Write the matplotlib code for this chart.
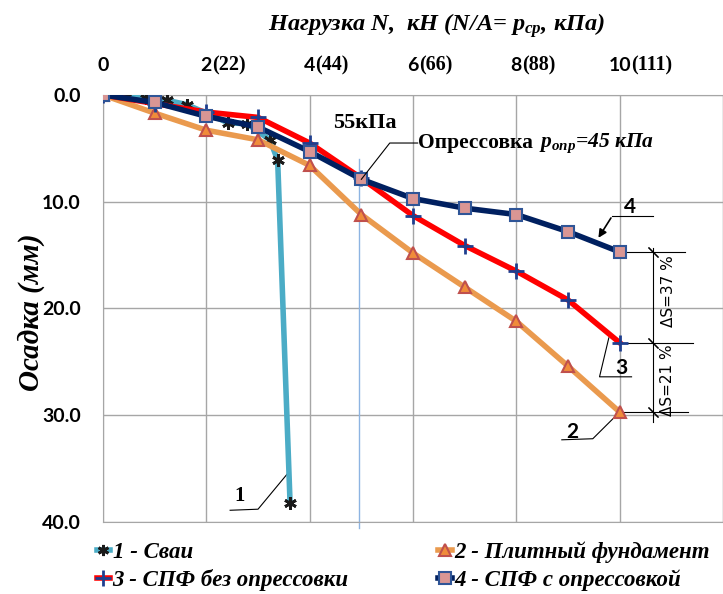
import matplotlib
matplotlib.use("Agg")
import matplotlib.pyplot as plt
import matplotlib.transforms as mtrans
from matplotlib.lines import Line2D

plt.rcParams['mathtext.fontset'] = 'custom'
plt.rcParams['mathtext.rm'] = 'Liberation Serif:bold'
plt.rcParams['mathtext.it'] = 'Liberation Serif:italic:bold'
plt.rcParams['mathtext.bf'] = 'Liberation Serif:bold'

# ---- data ----
n1 = [0, 0.43, 0.83, 1.24, 1.62, 2.42, 2.79, 3.23, 3.38, 3.62]
s1 = [0, 0.2, 0.3, 0.5, 0.9, 2.6, 2.7, 4.2, 6.1, 38.2]
n_load = [0, 1, 2, 3, 4, 5, 6, 7, 8, 9, 10]
s2 = [0, 1.7, 3.3, 4.2, 6.6, 11.2, 14.8, 18.0, 21.2, 25.4, 29.7]
s3 = [0, 0.8, 1.6, 2.1, 4.5, 7.8, 11.3, 14.1, 16.5, 19.2, 23.2]
s4 = [0, 0.7, 2.0, 3.0, 5.3, 7.9, 9.7, 10.6, 11.2, 12.8, 14.7]
top_ticks = [0, 2, 4, 6, 8, 10]
top_kpa = ["", "(22)", "(44)", "(66)", "(88)", "(111)"]
y_ticks = [0, 10, 20, 30, 40]
legend_labels = ["1 - Сваи", "2 - Плитный фундамент", "3 - СПФ без опрессовки", "4 - СПФ с опрессовкой"]
p_opr_load = 4.95

serif = 'Liberation Serif'
sans = 'Lato'

fig = plt.figure(figsize=(7.23, 5.94), dpi=100)
ax = fig.add_axes([0.1425, 0.1212, 0.8575, 0.7189])
ax.set_xlim(0, 12)
ax.set_ylim(40, 0)
ax.set_xticks([0, 2, 4, 6, 8, 10, 12])
ax.set_yticks(y_ticks)
ax.grid(True, color='#a6a6a6', lw=1.0)
for sp in ax.spines.values():
    sp.set_color('#a6a6a6')
ax.tick_params(length=0)
ax.set_xticklabels([])
ax.set_yticklabels([f"{v:.1f}" for v in y_ticks], fontsize=14, fontweight='bold', family=sans)
ax.tick_params(axis='y', pad=16)
ax.set_axisbelow(True)

# top tick labels
tr = mtrans.blended_transform_factory(ax.transData, ax.transAxes)
for t, k in zip(top_ticks, top_kpa):
    t1 = ax.text(t, 1.07, str(t), transform=tr, ha='center', va='center',
                 fontsize=14, fontweight='bold', family=sans)
    if k:
        ax.annotate(k, xy=(1, 0.5), xycoords=t1, ha='left', va='center',
                    fontsize=14.5, fontweight='bold', family=serif, annotation_clip=False)

# series
ax.plot(n1, s1, color='#4bacc6', lw=4, marker=(6, 2, 0), ms=9, mec='#1a1a1a', mew=2, zorder=3)
ax.plot(n_load, s2, color='#ea9a4e', lw=4, marker='^', ms=9, mfc='#f08c3a', mec='#c0504d', mew=1.5, zorder=4)
ax.plot(n_load, s3, color='#ff0000', lw=4, marker='+', ms=12, mec='#1f3f8f', mew=2, zorder=5)
ax.plot(n_load, s4, color='#002060', lw=4, marker='s', ms=8, mfc='#d99694', mec='#2f5597', mew=1.5, zorder=6)

# 55 kPa line
ax.plot([p_opr_load, p_opr_load], [6.0, 40.6], color='#8db4e2', lw=1, clip_on=False, zorder=2)
ax.text(4.45, 2.6, "55кПа", ha='left', va='center', fontsize=16, fontweight='bold', family=serif)
ax.plot([n_load[5], 5.55, 6.09], [s4[5], 4.5, 4.5], color='black', lw=0.8, zorder=7)
t_op = ax.text(6.1, 4.5, "Опрессовка ", ha='left', va='center', fontsize=15.5, fontweight='bold', family=serif)
ax.annotate(r"$p_{опр}$=45 кПа", xy=(1, 0.5), xycoords=t_op, ha='left', va='center',
            fontsize=15.5, fontweight='bold', fontstyle='italic', family=serif)

# callouts
ax.text(2.65, 37.6, "1", ha='center', va='center', fontsize=15, fontweight='bold', family=serif)
ax.plot([2.46, 3.0, 3.6], [38.9, 38.8, 35.3], color='black', lw=0.8)
ax.text(9.09, 31.6, "2", ha='center', va='center', fontsize=15, fontweight='bold', family=sans)
ax.plot([8.88, 9.48, n_load[-1]], [32.3, 32.2, s2[-1]], color='black', lw=0.8)
ax.text(10.04, 25.6, "3", ha='center', va='center', fontsize=15, fontweight='bold', family=sans)
ax.plot([10.23, 9.61, 9.79], [26.4, 26.4, 22.75], color='black', lw=0.8)
ax.text(10.19, 10.5, "4", ha='center', va='center', fontsize=15, fontweight='bold', family=sans)
ax.plot([10.64, 9.86], [11.3, 11.3], color='black', lw=0.8)
ax.annotate("", xy=(9.56, 13.6), xytext=(9.86, 11.3),
            arrowprops=dict(arrowstyle='-|>', color='black', lw=1.2, mutation_scale=12))

# dimension lines
ax.plot([n_load[-1], 11.27], [s4[-1], s4[-1]], color='black', lw=0.8, clip_on=False)
ax.plot([n_load[-1], 11.41], [s3[-1], s3[-1]], color='black', lw=0.8, clip_on=False)
ax.plot([n_load[-1], 11.33], [s2[-1], s2[-1]], color='black', lw=0.8, clip_on=False)
ax.plot([10.64, 10.64], [14.3, 30.6], color='black', lw=0.8)
ax.plot([10.64] * 3, [s4[-1], s3[-1], s2[-1]], ls='none', marker=(2, 2, 45), ms=10, mec='black', mew=0.8)
narrow = ['Liberation Sans Narrow', 'DejaVu Sans']
ax.text(10.95, 18.4, "ΔS=37 %", rotation=90, ha='center', va='center', fontsize=11, family=narrow)
ax.text(10.93, 26.7, "ΔS=21 %", rotation=90, ha='center', va='center', fontsize=11, family=narrow)

# axis titles
fig.text(0.603, 0.957, r"Нагрузка N,  кН (N/A= $p_{ср}$, кПа)", ha='center', va='center',
         fontsize=17.5, fontweight='bold', fontstyle='italic', family=serif)
fig.text(0.043, 0.475, "Осадка (мм)", rotation=90, ha='center', va='center',
         fontsize=21, fontweight='bold', fontstyle='italic', family=serif)

# legend
h1 = Line2D([], [], color='#4bacc6', lw=4, marker=(6, 2, 0), ms=8, mec='#1a1a1a', mew=2)
h2 = Line2D([], [], color='#ea9a4e', lw=4, marker='^', ms=9, mfc='#f08c3a', mec='#c0504d', mew=1.5)
h3 = Line2D([], [], color='#ff0000', lw=4, marker='+', ms=12, mec='#1f3f8f', mew=2)
h4 = Line2D([], [], color='#002060', lw=4, marker='s', ms=8, mfc='#d99694', mec='#2f5597', mew=1.5)
leg = fig.legend([h1, h3, h2, h4], [legend_labels[0], legend_labels[2], legend_labels[1], legend_labels[3]],
                 ncol=2, loc='lower left', bbox_to_anchor=(0.105, -0.03), frameon=False,
                 handlelength=0.6, handletextpad=0.1, columnspacing=3.9, labelspacing=0.25,
                 prop=dict(family=serif, weight='bold', style='italic', size=16.5))

fig.savefig("out.png", dpi=100)
